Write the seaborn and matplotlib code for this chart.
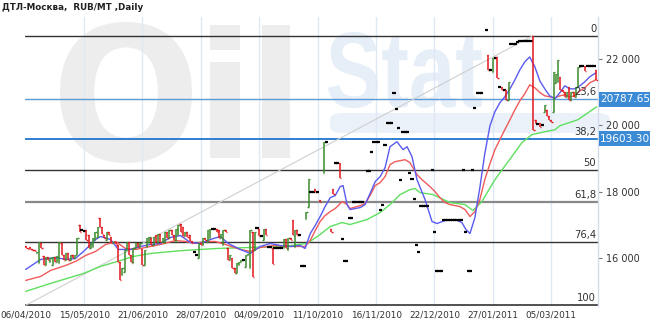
import matplotlib
matplotlib.use("Agg")
import matplotlib.pyplot as plt
import matplotlib.transforms as mtransforms
from matplotlib.patches import Rectangle, FancyBboxPatch, PathPatch
from matplotlib.textpath import TextPath
from matplotlib.font_manager import FontProperties
import seaborn as sns
import pandas as pd

# ---------------- data ----------------
title = "ДТЛ-Москва,  RUB/MT ,Daily"

tick_idx = [0, 26, 52, 78, 104, 130, 156, 182, 208, 234]
tick_labels = ["06/04/2010", "15/05/2010", "21/06/2010", "28/07/2010", "04/09/2010",
               "11/10/2010", "16/11/2010", "22/12/2010", "27/01/2011", "05/03/2011"]

price_ticks = [16000, 18000, 20000, 22000]

fib_high = 22702.08
fib_low = 14590.09
fib_high_idx = 226
fib_ratios = [0, 23.6, 38.2, 50, 61.8, 76.4, 100]
fib_names = ["0", "23,6", "38,2", "50", "61,8", "76,4", "100"]

# OHLC-style bars (open / close) per trading-day index
bar_idx = list(range(0, 132)) + [
    133, 134, 136, 137, 138, 139, 140, 141, 142, 143, 144, 145, 146, 147, 148, 149, 150,
    152, 153, 154, 155, 156, 157, 158, 159, 160, 161, 162, 163, 164, 165, 166, 167, 168,
    169, 170, 171, 172, 173, 174, 175, 176, 177, 178, 179, 181, 182, 183, 184, 185, 186,
    187, 188, 189, 190, 191, 192, 193, 194, 195, 196, 197, 198, 199, 200, 201, 202, 203,
    205] + list(range(206, 255))

bar_open = [
    16360, 16300, 16330, 16270, 16240, 16150, 15850, 16450, 16060, 15800,
    16050, 15900, 15800, 16050, 15900, 15850, 16450, 16100, 15950, 16150,
    15950, 16100, 16000, 16100, 17000, 16850, 16830, 16850, 16700, 16300,
    16350, 16550, 16650, 17230, 16950, 16700, 16550, 16800, 16650, 16450,
    16500, 16400, 15900, 15500, 15600, 16250, 16480, 16100, 15850, 16300,
    16450, 16350, 16270, 15800, 16350, 16450, 16600, 16400, 16700, 16450,
    16750, 16500, 16450, 16800, 16600, 16850, 16700, 16500, 16700, 17050,
    16950, 16680, 16800, 16720, 16510, 16180, 16100, 16000, 16450, 16400,
    16600, 16500, 16600, 16880, 16880, 16880, 16850, 16600, 16400, 16850,
    16300, 15950, 16000, 15700, 15550, 15800, 15900, 15950, 15750, 16100,
    15700, 16800, 16250, 16930, 16900, 16660, 16550, 16900, 16330, 16330,
    16300, 16300, 16300, 16300, 16300, 16300, 16570, 16250, 16600, 17170,
    16350, 16850, 16700, 15760, 15760, 17200, 17550, 18000, 18000, 18100,
    18000, 17750,
    # middle part
    18580, 19510, 16900, 18100, 18880, 18880, 18880, 16570, 15910, 15910,
    17230, 17230, 17710, 17710, 17710, 17710, 17710,
    18640, 18640, 19210, 19510, 19510, 19510, 17470, 17620, 19420, 20080,
    20080, 20080, 20980, 20500, 19930, 18370, 19810, 19810, 19810, 18580,
    18400, 17800, 16390, 16180, 17590, 17590, 17590, 17590, 18670, 16810,
    15610, 15610, 15610, 17170, 17170, 17170, 17170, 17170, 17170, 17170,
    17170, 17170, 18670, 16810, 15610, 15610, 18670, 20530, 20980, 20980,
    20980, 22870,
    # last part
    22120, 21670, 21610, 22030, 22060, 21160, 21160, 21070, 21070, 20770,
    22450, 22450, 22450, 22510, 22540, 22540, 22540, 22540, 22540, 22540,
    22690, 20170, 20050, 20080, 20000, 20410, 20470, 20290, 20170, 20410,
    21280, 21300, 21460, 21070, 21000, 20860, 21160, 20770, 21000, 20850,
    21160, 21790, 21790, 21790, 21790, 21790, 21790, 21790, 21670]

bar_close = [
    16300, 16270, 16270, 16240, 16210, 16200, 16480, 16300, 15790, 16050,
    15950, 16000, 16050, 15900, 16060, 16480, 16100, 15950, 16150, 15950,
    16100, 16000, 16100, 16600, 16800, 16850, 16830, 16550, 16300, 16450,
    16600, 16800, 16950, 16950, 16740, 16600, 16800, 16700, 16450, 16500,
    16420, 15900, 15350, 15700, 16250, 16480, 16100, 15900, 16300, 16450,
    16350, 16450, 15800, 16250, 16600, 16650, 16400, 16650, 16450, 16750,
    16500, 16600, 16800, 16600, 16850, 16700, 16550, 16900, 17000, 16800,
    16680, 16800, 16650, 16510, 16450, 16180, 16100, 16450, 16400, 16600,
    16550, 16850, 16900, 16880, 16880, 16800, 16600, 16750, 16850, 16800,
    15950, 16100, 15700, 15550, 15850, 15900, 15950, 15950, 16100, 16120,
    16850, 15450, 16800, 16930, 16660, 16660, 16900, 16700, 16330, 16330,
    15820, 16300, 16300, 16300, 16300, 16570, 16300, 16600, 16550, 16720,
    16850, 16700, 16700, 15760, 15760, 17400, 18400, 18000, 18000, 18000,
    18000, 17700,
    # middle part
    19510, 19510, 16800, 17950, 18880, 18880, 18430, 16570, 15910, 15910,
    17230, 17230, 17710, 17710, 17710, 17710, 17710,
    18640, 18640, 19210, 19510, 19510, 19510, 17470, 17620, 19420, 20080,
    20080, 20080, 20980, 20500, 19930, 18370, 19810, 19810, 19810, 18580,
    18400, 17800, 16390, 16180, 17590, 17590, 17590, 17590, 18670, 16810,
    15610, 15610, 15610, 17170, 17170, 17170, 17170, 17170, 17170, 17170,
    17170, 17170, 18670, 16810, 15610, 15610, 18670, 20530, 20980, 20980,
    20980, 22870,
    # last part
    21670, 21670, 22030, 22030, 21430, 21160, 21070, 21070, 20770, 21310,
    22450, 22450, 22450, 22510, 22540, 22540, 22540, 22540, 22540, 22540,
    19870, 20050, 20050, 19960, 20000, 20620, 20290, 20170, 20110, 21610,
    21550, 21970, 21070, 21000, 20860, 21000, 20770, 21000, 20850, 21160,
    21760, 21790, 21790, 21640, 21790, 21790, 21790, 21790, 21370]

# moving averages (read at sampled trading-day positions)
ma_fast_idx = [0, 6.7, 13.3, 17.8, 22.2, 26.7, 31.1, 33.3, 37.8, 41.3, 46.7, 51.1, 55.6, 60,
               64.4, 68.9, 73.3, 77.8, 82.2, 86.7, 90.2, 95.6, 100, 104.4, 108.9, 113.3,
               117.8, 122.2, 124.4, 126.7, 128.9, 131.1, 133.3, 135.6, 137.8, 140, 141.3,
               143.1, 144.4, 148.9, 151.1, 153.3, 155.6, 157.8, 160, 162.2, 165.3, 168,
               169.8, 172, 174.2, 177.8, 180.9, 183.1, 186.7, 191.1, 194.2, 196, 197.8,
               200, 202.2, 204.4, 206.7, 208.9, 211.1, 213.3, 215.6, 217.8, 220, 222.2,
               224.4, 226.7, 228.9, 231.1, 233.3, 235.6, 237.8, 240, 242.2, 244.4, 246.7,
               248.9, 251.1, 253.8]
ma_fast = [15670, 15970, 16030, 15970, 16000, 16270, 16570, 16660, 16570, 16270, 16270,
           16360, 16420, 16450, 16630, 16690, 16480, 16450, 16570, 16660, 16450, 16270,
           16150, 16360, 16450, 16390, 16360, 16390, 16300, 16750, 16990, 17260, 17560,
           17830, 17890, 18160, 18190, 17620, 17470, 17530, 17620, 17950, 18310, 18460,
           18730, 19360, 19510, 19270, 19360, 19060, 18370, 17770, 17110, 17050, 17140,
           17170, 17080, 16870, 16750, 17230, 18130, 19150, 19990, 20410, 20680, 20860,
           21100, 21370, 21670, 21910, 22060, 21760, 21340, 21100, 20890, 20800, 20980,
           21190, 21100, 21100, 21190, 21310, 21460, 21580]

ma_mid_idx = [0, 6.7, 11.1, 17.8, 22.2, 26.7, 31.1, 35.6, 40, 44.4, 48.9, 53.3, 60, 66.7,
              71.1, 75.6, 80, 84.4, 88.9, 95.6, 100, 104.4, 111.1, 117.8, 122.2, 124.4,
              126.7, 128.9, 131.1, 133.3, 135.6, 137.8, 140.9, 143.1, 144.4, 148.9, 151.1,
              153.3, 155.6, 157.8, 160, 162.2, 164.4, 166.7, 168.9, 171.1, 174.2, 176.4,
              180, 182.2, 184.4, 186.7, 188.9, 193.3, 195.6, 197.8, 200, 202.2, 204.4,
              206.7, 208.9, 211.1, 213.3, 215.6, 217.8, 220, 222.2, 224.4, 226.7, 228.9,
              231.1, 233.3, 235.6, 237.8, 240, 242.2, 244.4, 246.7, 248.9, 251.1, 253.8]
ma_mid = [15340, 15460, 15640, 15790, 15910, 16090, 16210, 16420, 16510, 16300, 16270,
          16330, 16420, 16540, 16510, 16450, 16510, 16510, 16420, 16270, 16210, 16330,
          16390, 16360, 16360, 16360, 16540, 16840, 17110, 17290, 17410, 17500, 17710,
          17620, 17500, 17590, 17650, 17890, 18190, 18280, 18460, 18820, 18910, 18940,
          18970, 18880, 18520, 18370, 18160, 18010, 17830, 17680, 17620, 17560, 17470,
          17260, 17410, 17770, 18370, 18850, 19270, 19570, 19870, 20170, 20470, 20740,
          20950, 21220, 21130, 20990, 20890, 20860, 20830, 20890, 20920, 20860, 20890,
          21040, 21130, 21280, 21370]

ma_slow_idx = [0, 11.1, 25.8, 33.3, 40.9, 48, 55.6, 70.2, 85.3, 100, 114.7, 125.3, 131.1,
               135.6, 140.9, 144.4, 152, 157.8, 162.2, 166.7, 171.1, 173.3, 175.6, 181.3,
               188.9, 195.6, 199.1, 203.1, 208.9, 216.4, 220.9, 225.3, 231.1, 235.6, 237.8,
               245.8, 254.2]
ma_slow = [15010, 15250, 15550, 15760, 15910, 16060, 16150, 16240, 16300, 16330, 16360,
           16450, 16720, 16960, 17080, 17020, 17170, 17380, 17620, 17920, 18070, 18100,
           17980, 17920, 17680, 17620, 17440, 17710, 18370, 19060, 19480, 19720, 19810,
           19870, 19990, 20170, 20560]

# ---------------- styling ----------------
sns.set_theme(style="white")
plt.rcParams["font.family"] = ["DejaVu Sans"]

W, H = 650, 328
fig = plt.figure(figsize=(W / 100, H / 100), dpi=100)
fig.patch.set_facecolor("white")
ax = fig.add_axes([25 / W, 22 / H, 573 / W, 289 / H])
ax.patch.set_alpha(0)

ymin, ymax = fib_low - 20, 23260
ax.set_ylim(ymin, ymax)
ax.set_xlim(-0.3, 254.8)


# watermark: glyph outlines fitted to boxes given in image pixels (x0, y_top, x1, y_bottom)
def watermark(txt, family, box, color):
    fp = FontProperties(family=family, weight="bold")
    path = TextPath((0, 0), txt, size=100, prop=fp)
    ext = path.get_extents()
    x0, yt, x1, yb = box
    sx = (x1 - x0) / ext.width
    sy = (yb - yt) / ext.height
    tr = (mtransforms.Affine2D().translate(-ext.x0, -ext.y0).scale(sx, sy)
          .translate(x0, H - yb))
    p = PathPatch(path, transform=tr, facecolor=color, edgecolor="none", zorder=-5)
    fig.add_artist(p)


watermark("O", "DejaVu Sans", (60, 22, 192, 163), "#ededed")
watermark("i", "DejaVu Sans", (210, 25, 240, 158), "#ededed")
watermark("l", "DejaVu Sans", (262, 25, 290, 158), "#ededed")
watermark("Stat", "Liberation Sans", (328, 32, 482, 108), "#e6eef8")
band = FancyBboxPatch((330 / W, 1 - 133 / H), 280 / W, 20 / H,
                      boxstyle="round,pad=0,rounding_size=0.02", transform=fig.transFigure,
                      facecolor="#ebf1f9", edgecolor="none", zorder=-6)
fig.patches.append(band)

# vertical grid
ax.set_xticks(tick_idx)
ax.set_xticklabels(tick_labels)
for t in tick_idx[1:]:
    ax.axvline(t, color="#dfe9f5", lw=1, zorder=0)

# fib lines
fib_levels = [fib_high - r / 100 * (fib_high - fib_low) for r in fib_ratios]
line_styles = {
    "0": ("#333333", 1.0), "23,6": ("#5b9bd8", 1.0), "38,2": ("#2f7fd0", 1.4),
    "50": ("#333333", 1.0), "61,8": ("#888888", 1.6), "76,4": ("#333333", 1.0),
    "100": ("#333333", 1.2)}
for lvl, name in zip(fib_levels, fib_names):
    c, lw = line_styles[name]
    ax.axhline(lvl, color=c, lw=lw, zorder=1)
    ax.text(254.0, lvl + 60, name, ha="right", va="bottom", fontsize=7.2,
            color="#333333", zorder=6)

# trend line from low to high
sns.lineplot(x=[0, fib_high_idx], y=[fib_low, fib_high], ax=ax, color="#cfcfcf",
             linewidth=0.8, zorder=1)

# moving averages
sns.lineplot(x=ma_slow_idx, y=ma_slow, ax=ax, color="#5ee05e", linewidth=1.0, zorder=3, sort=False)
sns.lineplot(x=ma_mid_idx, y=ma_mid, ax=ax, color="#f05a5a", linewidth=1.0, zorder=3, sort=False)
sns.lineplot(x=ma_fast_idx, y=ma_fast, ax=ax, color="#5a5af0", linewidth=1.0, zorder=3, sort=False)

# bars
bars = pd.DataFrame({"i": bar_idx, "o": bar_open, "c": bar_close})
for _, r in bars.iterrows():
    i, o, c = r["i"], r["o"], r["c"]
    if o == c:
        ax.hlines(o, i - 0.7, i + 0.7, color="black", lw=1.6, zorder=4)
        continue
    col = "#3c8c2c" if c > o else "#e3161c"
    ax.vlines(i, min(o, c), max(o, c), color=col, lw=1.1, zorder=4)
    ax.hlines(o, i - 0.6, i, color=col, lw=1.0, zorder=4)
    ax.hlines(c, i, i + 0.6, color=col, lw=1.0, zorder=4)

# axes / ticks
ax.yaxis.tick_right()
ax.set_yticks(price_ticks)
ax.set_yticklabels([f"{v:,}".replace(",", " ") for v in price_ticks])
ax.tick_params(axis="y", length=3, width=0.8, color="#777777", pad=3,
               labelsize=7, labelcolor="#333333", right=True, left=False)
ax.tick_params(axis="x", length=0, pad=3.5, labelsize=6.4, labelcolor="#333333")
for s in ["top", "left", "bottom"]:
    ax.spines[s].set_visible(False)
ax.spines["right"].set_color("#d3dcea")
ax.spines["right"].set_linewidth(1)
ax.set_xlabel("")
ax.set_ylabel("")
ax.grid(False)

# value boxes for the 23.6 and 38.2 levels
blend = mtransforms.blended_transform_factory(ax.transAxes, ax.transData)
px_val = (ymax - ymin) / 289.0
for lvl in (fib_levels[1], fib_levels[2]):
    ax.add_patch(Rectangle((1 + 1 / 573, lvl - 7.5 * px_val), 52 / 573, 15 * px_val,
                           transform=blend, facecolor="#3a8ad6", edgecolor="none",
                           clip_on=False, zorder=7))
    ax.text(1 + 27 / 573, lvl, f"{lvl:.2f}", transform=blend, ha="center", va="center",
            fontsize=7.6, color="white", clip_on=False, zorder=8)

fig.text(2 / W, 1 - 8 / H, title, fontsize=6.3, fontweight="bold", color="#222222",
         ha="left", va="center")

fig.savefig("out.png", dpi=100)
